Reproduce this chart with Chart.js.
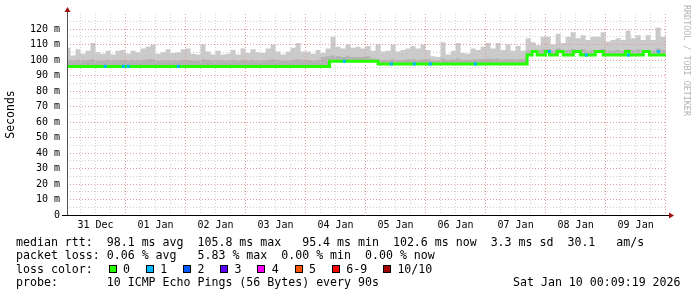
<!DOCTYPE html>
<html>
<head>
<meta charset="utf-8">
<script src="https://cdn.jsdelivr.net/npm/chart.js@4.4.1/dist/chart.umd.min.js"></script>
<style>
html, body { margin: 0; padding: 0; background: #fff; }
#wrap { position: relative; width: 697px; height: 297px; overflow: hidden; font-family: 'DejaVu Sans Mono', monospace; color: #000; }
#chart { position: absolute; left: 0; top: 0; }
.txt { position: absolute; font-size: 11.6px; line-height: 14px; white-space: pre; }
.box { position: absolute; width: 6px; height: 6px; border: 1px solid #000; top: 265px; }
#credit { position: absolute; left: 682px; top: 5px; writing-mode: vertical-rl; font-size: 8.4px; line-height: 10px; color: #b4b4b4; white-space: pre; }
</style>
</head>
<body>
<div id="wrap">
  <canvas id="chart" width="697" height="297"></canvas>
  <div id="credit">RRDTOOL / TOBI OETIKER</div>
  <div class="txt" style="left:16px;top:234.5px">median rtt:  98.1 ms avg  105.8 ms max   95.4 ms min  102.6 ms now  3.3 ms sd  30.1   am/s</div>
  <div class="txt" style="left:16px;top:248px">packet loss: 0.06 % avg   5.83 % max  0.00 % min  0.00 % now</div>
  <div class="txt" style="left:16px;top:261.5px">loss color:</div>
  <div class="txt" style="left:16px;top:275px">probe:       10 ICMP Echo Pings (56 Bytes) every 90s</div>
  <div class="txt" style="left:513px;top:275px">Sat Jan 10 00:09:19 2026</div>
</div>
<script>
// hours counted from 31 Dec 00:00, graph ends Sat Jan 10 00:09
const dayLabels = ['31 Dec', '01 Jan', '02 Jan', '03 Jan', '04 Jan', '05 Jan', '06 Jan', '07 Jan', '08 Jan', '09 Jan'];
const yTickValues = [0, 5, 10, 15, 20, 25, 30, 35, 40, 45, 50, 55, 60, 65, 70, 75, 80, 85, 90, 95, 100, 105, 110, 115, 120, 125];
const xTickHours = [];
for (let h = 6; h <= 240; h += 6) xTickHours.push(h);

// smoke, one value per 2 hour step (ms)
const smokeHigh = [
  108, 103, 107, 104, 106, 111, 105, 104, 106, 103.5, 106, 106.5, 104, 106, 105, 107.5, 108.5, 110, 104, 105, 107, 104.5, 105, 107,
  107.5, 104, 103.5, 110, 105.5, 103.5, 106, 103.5, 104, 106.5, 103.5, 107.5, 104.5, 107, 105, 104.5, 107.5, 110, 105.5, 103.5, 105.5, 108, 111, 105.5,
  105.5, 104, 106.5, 104.5, 107.5, 115, 108.5, 107.5, 110, 108, 108.5, 107.5, 109, 106, 110, 105.5, 106, 110, 105.5, 106.5, 107.5, 109, 107.5, 110,
  106.5, 102.5, 102, 111.5, 103.5, 106, 111, 104.5, 104, 107.5, 106.5, 108.5, 111, 107.5, 111, 106.5, 110, 106, 109, 106, 114, 111.5, 109.5, 115,
  115, 110, 117, 111, 115, 118, 114, 116, 113, 115, 115, 118, 112, 113, 114, 113, 119, 114, 116, 113, 116, 113, 121, 115
];
const smokeMid = [
  100, 99.5, 100, 99.5, 100, 100.5, 99.5, 99.5, 100, 99.5, 100, 100, 99.5, 100, 99.5, 100, 100.5, 100.5, 99.5, 99.5, 100, 99.5, 99.5, 100,
  100, 99.5, 99.5, 100.5, 100, 99.5, 100, 99.5, 99.5, 100, 99.5, 100, 99.5, 100, 99.5, 99.5, 100, 100.5, 100, 99.5, 99.5, 100, 100.5, 100,
  100, 99.5, 100, 102, 102.5, 103, 102.5, 102, 102.5, 102, 102, 102, 102.5, 101, 100.5, 100, 100, 100.5, 100, 100, 100.5, 100.5, 100, 100.5,
  100.5, 99.5, 99.5, 101, 100, 100.5, 101, 100, 100, 100.5, 100.5, 100.5, 101, 100.5, 101, 100.5, 100.5, 100.5, 100.5, 100.5, 106, 106.5, 106, 107,
  107, 106, 107.5, 106, 106.5, 107, 106.5, 107, 106, 106.5, 106.5, 107, 106, 106, 106.5, 106, 107, 106.5, 107, 106, 106.5, 106, 107.5, 106.5
];

// median rtt, changes at these hours (ms)
const medianHours = [0, 105.6, 125, 184.6, 186.6, 188.6, 191.9, 193.5, 196.7, 199.1, 203.1, 205.9, 211.9, 215.1, 223.9, 225.5, 231.1, 233.5, 240.3];
const medianValues = [95.9, 99.2, 97.5, 103.2, 105.5, 103.2, 105.5, 103.2, 105.5, 103.2, 105.5, 103.2, 105.5, 103.2, 105.5, 103.2, 105.5, 103.2, 103.2];

// single lost pings (loss colour 1)
const lossHours = [15.9, 23.1, 25.1, 45.1, 111.5, 130.3, 139.5, 145.9, 163.9, 193.5, 208.3, 225.1, 237.1];
const lossValues = [95.9, 95.9, 95.9, 95.9, 99.2, 97.5, 97.5, 97.5, 97.5, 105.5, 103.2, 103.2, 105.5];

const lossLabels = ['0', '1', '2', '3', '4', '5', '6-9', '10/10'];
const lossColors = ['#26ff00', '#00b8ff', '#0059ff', '#5e00ff', '#ff00ff', '#ff5500', '#ff0000', '#a10000'];

// loss colour legend boxes
const wrap = document.getElementById('wrap');
let bx = 108.5;
lossLabels.forEach((lab, i) => {
  const b = document.createElement('div');
  b.className = 'box';
  b.style.left = bx + 'px';
  b.style.background = lossColors[i];
  wrap.appendChild(b);
  const t = document.createElement('div');
  t.className = 'txt';
  t.style.left = (bx + 14.5) + 'px';
  t.style.top = '261.5px';
  t.textContent = lab;
  wrap.appendChild(t);
  bx = bx + 14.5 + lab.length * 7 + 15.7;
});

const stepPts = vals => {
  const p = vals.map((v, i) => ({x: i * 2, y: v}));
  p.push({x: 240.3, y: vals[vals.length - 1]});
  return p;
};
const xyPts = (xs, ys) => xs.map((x, i) => ({x: x, y: ys[i]}));

const majorGrid = '#e09c9c';
const minorGrid = '#d0d0d0';

// rrdtool draws its grid over the smoke, so draw it again before the median
const gridOnTop = {
  id: 'gridOnTop',
  beforeDatasetDraw(chart, args) {
    if (args.index !== 1) return;
    const ctx = chart.ctx;
    ctx.save();
    chart.scales.x.drawGrid(chart.chartArea);
    chart.scales.y.drawGrid(chart.chartArea);
    ctx.restore();
  },
  afterDraw(chart) {
    const ctx = chart.ctx;
    const a = chart.chartArea;
    ctx.save();
    ctx.lineWidth = 1;
    ctx.strokeStyle = '#505050';
    ctx.beginPath();
    ctx.moveTo(a.left + 0.5, a.bottom);
    ctx.lineTo(a.left + 0.5, 11);
    ctx.stroke();
    ctx.strokeStyle = '#000';
    ctx.beginPath();
    ctx.moveTo(62, a.bottom + 0.5);
    ctx.lineTo(a.right + 3, a.bottom + 0.5);
    ctx.stroke();
    ctx.fillStyle = '#a01010';
    ctx.beginPath();
    ctx.moveTo(a.left + 0.5, 7);
    ctx.lineTo(a.left - 2.5, 12);
    ctx.lineTo(a.left + 3.5, 12);
    ctx.closePath();
    ctx.fill();
    ctx.beginPath();
    ctx.moveTo(a.right + 8, a.bottom + 0.5);
    ctx.lineTo(a.right + 3, a.bottom - 2.5);
    ctx.lineTo(a.right + 3, a.bottom + 3.5);
    ctx.closePath();
    ctx.fill();
    ctx.restore();
  }
};

const font10 = {family: "'DejaVu Sans Mono', monospace", size: 10};

new Chart(document.getElementById('chart'), {
  type: 'line',
  data: {
    datasets: [
      {
        label: 'loss',
        type: 'scatter',
        data: xyPts(lossHours, lossValues),
        pointStyle: 'rect',
        pointRadius: 2.2,
        pointBackgroundColor: lossColors[1],
        pointBorderWidth: 0
      },
      {
        label: 'median',
        data: xyPts(medianHours, medianValues),
        stepped: true,
        borderColor: lossColors[0],
        borderWidth: 3,
        pointRadius: 0,
        fill: false
      },
      {
        label: 'smoke mid',
        data: stepPts(smokeMid),
        stepped: true,
        borderWidth: 0,
        pointRadius: 0,
        backgroundColor: '#b3b3b3',
        fill: 1
      },
      {
        label: 'smoke',
        data: stepPts(smokeHigh),
        stepped: true,
        borderWidth: 0,
        pointRadius: 0,
        backgroundColor: '#cacaca',
        fill: 1
      }
    ]
  },
  options: {
    responsive: false,
    animation: false,
    devicePixelRatio: 1,
    layout: {padding: {top: 14, right: 31, left: 0, bottom: 0}},
    plugins: {legend: {display: false}, tooltip: {enabled: false}},
    scales: {
      x: {
        type: 'linear',
        min: 0.6,
        max: 240.15,
        afterBuildTicks: s => { s.ticks = xTickHours.map(v => ({value: v})); },
        afterFit: s => { s.height = 82; },
        grid: {
          color: c => (c.tick && c.tick.value % 24 === 0) ? majorGrid : minorGrid,
          lineWidth: 1,
          drawTicks: false
        },
        border: {display: false, dash: [1, 2]},
        ticks: {
          autoSkip: false,
          maxRotation: 0,
          padding: 4,
          color: '#000',
          font: font10,
          callback: v => (v % 24 === 12) ? dayLabels[(v - 12) / 24] : ''
        }
      },
      y: {
        min: 0,
        max: 129.7,
        afterBuildTicks: s => { s.ticks = yTickValues.map(v => ({value: v})); },
        afterFit: s => { s.width = 67; },
        grid: {
          color: c => (c.tick && c.tick.value % 10 === 0) ? majorGrid : minorGrid,
          lineWidth: 1,
          drawTicks: false
        },
        border: {display: false, dash: [1, 2]},
        ticks: {
          autoSkip: false,
          padding: 7,
          color: '#000',
          font: font10,
          callback: v => (v % 10 !== 0) ? '' : (v === 0 ? '0' : v + ' m')
        },
        title: {
          display: true,
          text: 'Seconds',
          color: '#000',
          font: {family: "'DejaVu Sans Mono', monospace", size: 11.5},
          padding: {top: 4, bottom: 0}
        }
      }
    }
  },
  plugins: [gridOnTop]
});
</script>
</body>
</html>
